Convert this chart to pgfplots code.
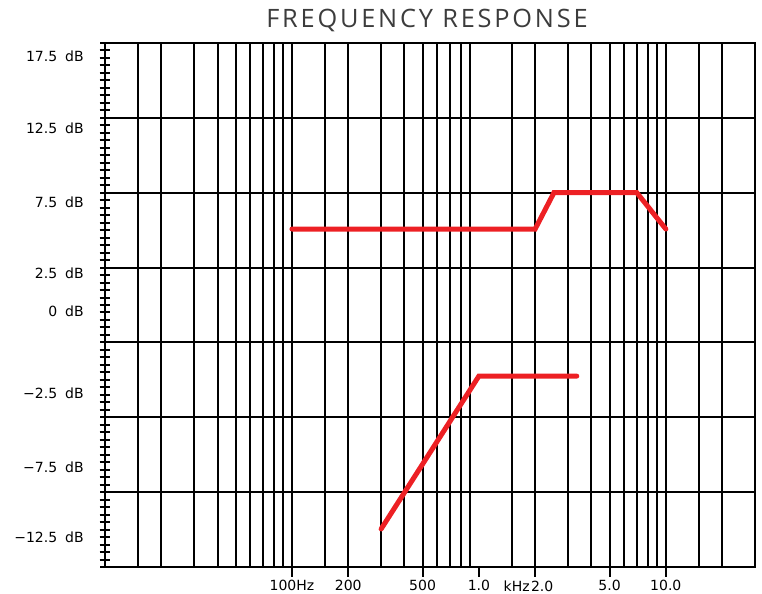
\documentclass[border=0pt]{standalone}
\usepackage{pgfplots}
\pgfplotsset{compat=1.18}
\usepackage{fontspec}
\setmainfont{DejaVu Sans}
\newfontfamily\titlefont[LetterSpace=11]{Open Sans}
\definecolor{respred}{RGB}{237,32,36}
\definecolor{titlegray}{RGB}{60,60,60}
\begin{document}
\begin{tikzpicture}
\begin{axis}[
  scale only axis,
  width=487.5pt, height=393pt,
  xmode=log, xmin=10, xmax=30000,
  ymin=0, ymax=7,
  axis line style={black, line width=1.8pt},
  tick style={black, line width=1.5pt},
  major tick length=7.5pt, minor tick length=8pt,
  major grid style={black, line width=1.5pt},
  tick label style={font=\fontsize{10.5}{12}\selectfont},
  xtick={100,200,500,1000,2000,5000,10000},
  xticklabels={100Hz,200,500,1.0,\hspace{10.5pt}\llap{kHz\hspace{1pt}}2.0,5.0,10.0},
  xtick pos=bottom, xtick align=outside, xminorticks=false,
  xticklabel style={inner sep=0pt, yshift=-2.5pt},
  extra x ticks={15,20,30,40,50,60,70,80,90,100,150,200,300,400,500,600,700,800,900,1500,2000,3000,4000,5000,6000,7000,8000,9000,10000,15000,20000},
  extra x tick labels={},
  extra x tick style={grid=major, major tick length=0pt},
  ytick={0,1,2,3,4,5,6,7},
  yticklabels={},
  ytick pos=left, ytick align=center,
  minor y tick num=9,
  ymajorgrids,
  yticklabel style={inner sep=0pt, xshift=-15.75pt},
  extra y ticks={0.40,1.336,2.324,3.42,3.927,4.876,5.864,6.826},
  extra y tick labels={−12.5\hspace{6pt}dB\hspace{3.75pt},−7.5\hspace{6pt}dB\hspace{3.75pt},−2.5\hspace{6pt}dB\hspace{3pt},0\hspace{6pt}dB\hspace{8.25pt},2.5\hspace{6pt}dB\hspace{9pt},7.5\hspace{6pt}dB\hspace{9pt},12.5\hspace{6pt}dB\hspace{3pt},17.5\hspace{6pt}dB},
  extra y tick style={grid=none, major tick length=0pt},
]
\addplot[respred, line width=3.75pt, line cap=round, line join=miter] coordinates {(100,4.515) (2000,4.515) (2520,5.0) (7000,5.0) (10000,4.515)};
\addplot[respred, line width=3.75pt, line cap=round, line join=miter] coordinates {(300,0.508) (1000,2.55) (3340,2.55)};
\coordinate (SW) at (rel axis cs:0,0);
\coordinate (NE) at (rel axis cs:1,1);
\coordinate (T) at (rel axis cs:0.5,1);
\end{axis}
\node[font=\titlefont\fontsize{19}{22}\selectfont, text=titlegray, anchor=base, inner sep=0pt] at ([xshift=-2.25pt,yshift=11.25pt]T) {FREQUENCY RESPONSE};
\path ([xshift=-78.75pt,yshift=-20.25pt]SW) rectangle ([xshift=5.25pt,yshift=32.25pt]NE);
\end{tikzpicture}
\end{document}
